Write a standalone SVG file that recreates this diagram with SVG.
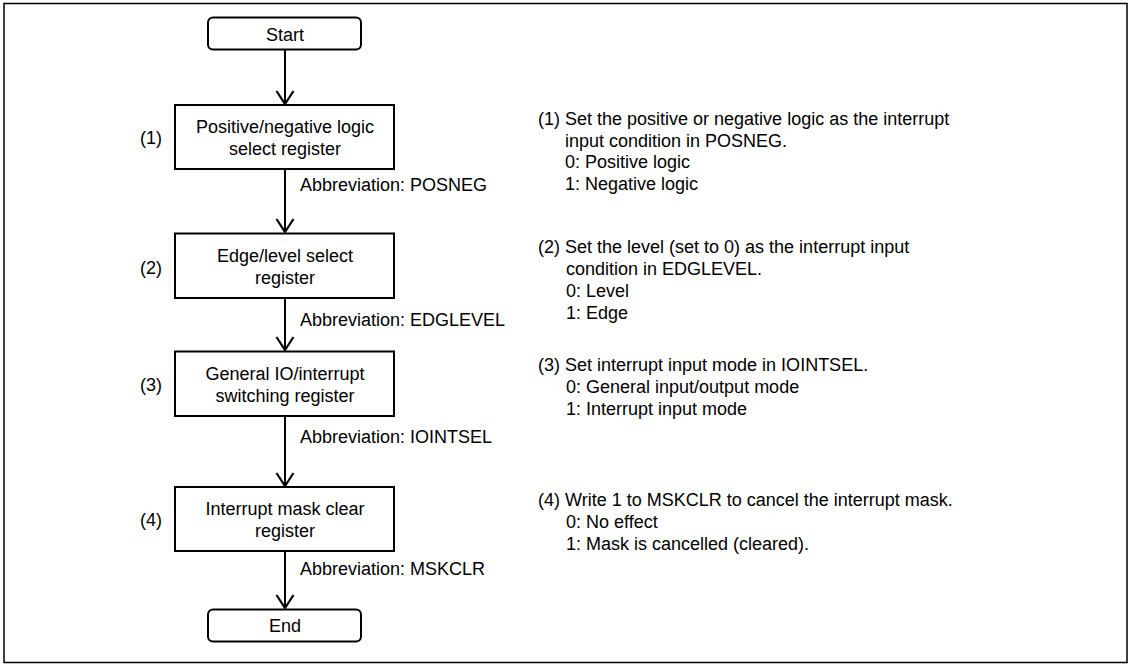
<svg xmlns="http://www.w3.org/2000/svg" width="1133" height="669" viewBox="0 0 1133 669">
<style>
text{font-family:"Liberation Sans",Arial,sans-serif;font-size:18px;fill:#000}
.c{text-anchor:middle}
.box{fill:#fff;stroke:#000;stroke-width:2}
.ln{fill:none;stroke:#000;stroke-width:2}
</style>
<defs>
<marker id="arr" markerUnits="userSpaceOnUse" markerWidth="18" markerHeight="22" viewBox="-15 -11 18 22" refX="0" refY="0" orient="auto">
<path d="M-13,-8.5 L0,0 L-13,8.5" fill="none" stroke="#000" stroke-width="2.2"/>
</marker>
</defs>
<rect x="4" y="3.5" width="1123" height="659" fill="#fff" stroke="#000" stroke-width="1.5"/>
<g id="connectors">
<line class="ln" x1="285" y1="49.5" x2="285" y2="104" marker-end="url(#arr)"/>
<line class="ln" x1="285" y1="169" x2="285" y2="232" marker-end="url(#arr)"/>
<line class="ln" x1="285" y1="298" x2="285" y2="350" marker-end="url(#arr)"/>
<line class="ln" x1="285" y1="416" x2="285" y2="486" marker-end="url(#arr)"/>
<line class="ln" x1="285" y1="551" x2="285" y2="608" marker-end="url(#arr)"/>
</g>
<g id="start">
<rect class="box" x="208" y="17.5" width="153" height="32" rx="5"/>
<text class="c" x="285" y="41">Start</text>
</g>
<g id="step1">
<rect class="box" x="175" y="105" width="219" height="64"/>
<text class="c" x="285" y="133">Positive/negative logic</text>
<text class="c" x="285" y="155">select register</text>
<text x="140" y="144">(1)</text>
<text x="300" y="191">Abbreviation: POSNEG</text>
</g>
<g id="step2">
<rect class="box" x="175" y="233.5" width="219" height="64.5"/>
<text class="c" x="285" y="262">Edge/level select</text>
<text class="c" x="285" y="284">register</text>
<text x="140" y="274">(2)</text>
<text x="300" y="326">Abbreviation: EDGLEVEL</text>
</g>
<g id="step3">
<rect class="box" x="175" y="351.5" width="219" height="64.5"/>
<text class="c" x="285" y="380">General IO/interrupt</text>
<text class="c" x="285" y="402">switching register</text>
<text x="140" y="391">(3)</text>
<text x="300" y="443">Abbreviation: IOINTSEL</text>
</g>
<g id="step4">
<rect class="box" x="175" y="487" width="219" height="64"/>
<text class="c" x="285" y="515">Interrupt mask clear</text>
<text class="c" x="285" y="537">register</text>
<text x="140" y="526">(4)</text>
<text x="300" y="575">Abbreviation: MSKCLR</text>
</g>
<g id="end">
<rect class="box" x="208" y="609.5" width="153" height="32" rx="5"/>
<text class="c" x="285" y="632">End</text>
</g>
<g id="notes">
<text x="538" y="125">(1) Set the positive or negative logic as the interrupt</text>
<text x="565" y="147">input condition in POSNEG.</text>
<text x="565" y="168">0: Positive logic</text>
<text x="565" y="190">1: Negative logic</text>
<text x="538" y="253">(2) Set the level (set to 0) as the interrupt input</text>
<text x="566" y="275">condition in EDGLEVEL.</text>
<text x="566" y="297">0: Level</text>
<text x="566" y="319">1: Edge</text>
<text x="538" y="371">(3) Set interrupt input mode in IOINTSEL.</text>
<text x="566" y="393">0: General input/output mode</text>
<text x="566" y="415">1: Interrupt input mode</text>
<text x="538" y="506">(4) Write 1 to MSKCLR to cancel the interrupt mask.</text>
<text x="566" y="528">0: No effect</text>
<text x="566" y="550">1: Mask is cancelled (cleared).</text>
</g>
</svg>
